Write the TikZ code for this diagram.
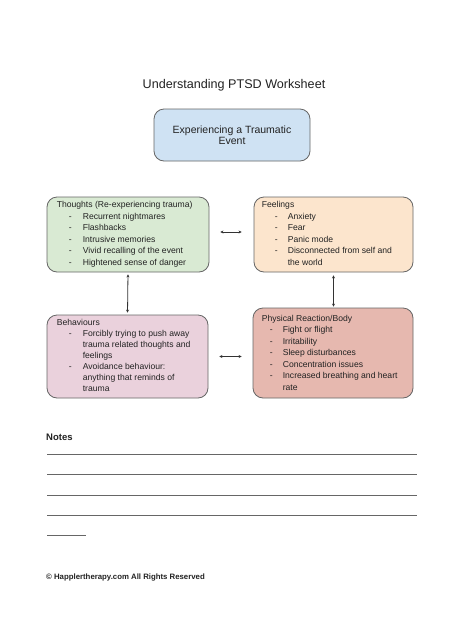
\documentclass[tikz,border=0pt]{standalone}
\usepackage{fontspec}
\setmainfont{Liberation Sans}
\usetikzlibrary{arrows.meta}
\definecolor{tblue}{HTML}{CFE2F3}
\definecolor{tgreen}{HTML}{D9EAD3}
\definecolor{torange}{HTML}{FCE5CD}
\definecolor{tpink}{HTML}{EAD1DC}
\definecolor{tred}{HTML}{E6B8AF}
\definecolor{tborder}{HTML}{666666}
\definecolor{ttext}{HTML}{222222}
\newcommand\bitem[3]{\hspace*{#1}\makebox[#2][l]{-}#3}
\newcommand\bcont[2]{\hspace*{#1}#2}
\begin{document}
\begin{tikzpicture}[x=1pt,y=-1pt,
  box/.style={draw=tborder, line width=0.8pt, rounded corners=10pt, inner sep=0pt},
  txt/.style={anchor=north west, align=left, inner sep=0pt, text=ttext,
    font=\fontsize{8.6}{11.5}\selectfont},
  link/.style={draw=black!80, line width=0.8pt, {Stealth[length=3pt,width=3pt]}-{Stealth[length=3pt,width=3pt]}},
  noteline/.style={draw=black!60, line width=1pt}
]
\useasboundingbox (0,0) rectangle (474,619);
\fill[white] (0,0) rectangle (474,619);

\node[text=ttext, font=\fontsize{12.6}{14}\selectfont] (title) at (234,85) {Understanding PTSD Worksheet};

\node[box, fill=tblue, minimum width=156pt, minimum height=52pt] (event) at (232,135) {};
\node[align=center, inner sep=0pt, text=ttext, font=\fontsize{10.5}{11.5}\selectfont] (eventT) at (event.center) {Experiencing a Traumatic\\Event};

\node[box, fill=tgreen, minimum width=162pt, minimum height=75pt] (thoughts) at (128,234.5) {};
\node[box, fill=torange, minimum width=159pt, minimum height=75pt] (feelings) at (333.5,234.5) {};
\node[box, fill=tpink, minimum width=161pt, minimum height=83pt] (behav) at (127.5,356.5) {};
\node[box, fill=tred, minimum width=160pt, minimum height=90pt] (phys) at (333,353) {};

\node[txt] (thoughtsT) at ([xshift=10pt,yshift=-4.5pt]thoughts.north west) {Thoughts (Re-experiencing trauma)\\
\bitem{12pt}{14pt}{Recurrent nightmares}\\
\bitem{12pt}{14pt}{Flashbacks}\\
\bitem{12pt}{14pt}{Intrusive memories}\\
\bitem{12pt}{14pt}{Vivid recalling of the event}\\
\bitem{12pt}{14pt}{Hightened sense of danger}};

\node[txt] (feelingsT) at ([xshift=8pt,yshift=-4.5pt]feelings.north west) {Feelings\\
\bitem{13pt}{13pt}{Anxiety}\\
\bitem{13pt}{13pt}{Fear}\\
\bitem{13pt}{13pt}{Panic mode}\\
\bitem{13pt}{13pt}{Disconnected from self and}\\
\bcont{26pt}{the world}};

\node[txt, font=\fontsize{8.6}{11.0}\selectfont] (behavT) at ([xshift=10pt,yshift=-4.5pt]behav.north west) {Behaviours\\
\bitem{12pt}{14pt}{Forcibly trying to push away}\\
\bcont{26pt}{trauma related thoughts and}\\
\bcont{26pt}{feelings}\\
\bitem{12pt}{14pt}{Avoidance behaviour:}\\
\bcont{26pt}{anything that reminds of}\\
\bcont{26pt}{trauma}};

\node[txt] (physT) at ([xshift=9pt,yshift=-7pt]phys.north west) {Physical Reaction/Body\\
\bitem{8pt}{13pt}{Fight or flight}\\
\bitem{8pt}{13pt}{Irritability}\\
\bitem{8pt}{13pt}{Sleep disturbances}\\
\bitem{8pt}{13pt}{Concentration issues}\\
\bitem{8pt}{13pt}{Increased breathing and heart}\\
\bcont{21pt}{rate}};

\draw[link, shorten <=11pt, shorten >=12pt] ([yshift=2.5pt]thoughts.east) -- ([yshift=2.5pt]feelings.west);
\draw[link, shorten <=2pt, shorten >=2pt] (thoughts.south) -- (behav.north);
\draw[link, shorten <=3pt, shorten >=1pt] (feelings.south) -- (feelings.south |- phys.north);
\draw[link, shorten <=11pt, shorten >=11pt] (behav.east) -- (behav.east -| phys.west);

\node[anchor=west, inner sep=0pt, text=ttext, font=\bfseries\fontsize{9.5}{11}\selectfont] (notes) at (46,437) {Notes};
\coordinate (l1a) at (47,454); \coordinate (l1b) at (417,454);
\coordinate (l2a) at (47,474); \coordinate (l2b) at (417,474);
\coordinate (l3a) at (47,495); \coordinate (l3b) at (417,495);
\coordinate (l4a) at (47,515); \coordinate (l4b) at (417,515);
\coordinate (l5a) at (47,535); \coordinate (l5b) at (86,535);
\draw[noteline] (l1a) -- (l1b);
\draw[noteline] (l2a) -- (l2b);
\draw[noteline] (l3a) -- (l3b);
\draw[noteline] (l4a) -- (l4b);
\draw[noteline] (l5a) -- (l5b);

\node[anchor=west, inner sep=0pt, text=ttext, font=\bfseries\fontsize{7.8}{9}\selectfont] (copy) at (46,577) {© Happlertherapy.com All Rights Reserved};
\end{tikzpicture}
\end{document}
